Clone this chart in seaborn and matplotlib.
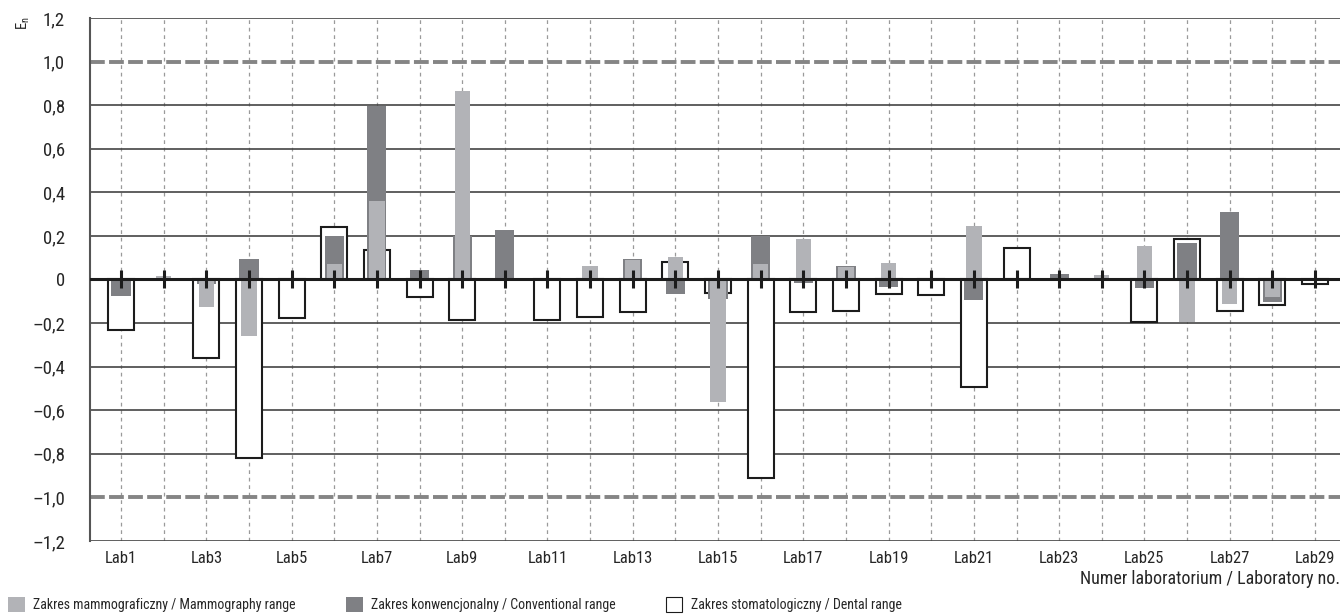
import numpy as np
import matplotlib
matplotlib.use("Agg")
import matplotlib.pyplot as plt
import matplotlib.patches as mpatches
import matplotlib.font_manager as fm
import seaborn as sns

# E_n values, one entry per laboratory (nan = no bar)
labs = [f"Lab{i}" for i in range(1, 30)]
mammo = [np.nan, 0.015, -0.127, -0.26, np.nan, 0.07, 0.362, np.nan, 0.867, np.nan,
         np.nan, 0.062, 0.09, 0.103, -0.562, 0.07, 0.186, 0.058, 0.075, np.nan,
         0.247, np.nan, np.nan, 0.02, 0.154, -0.196, -0.111, -0.08, np.nan]
conv = [-0.076, np.nan, -0.023, 0.094, np.nan, 0.2, 0.796, 0.043, 0.2, 0.228,
        np.nan, np.nan, 0.095, -0.067, -0.088, 0.2, -0.018, 0.062, -0.034, np.nan,
        -0.096, np.nan, 0.025, np.nan, -0.039, 0.168, 0.311, -0.103, np.nan]
dental = [-0.23, np.nan, -0.36, -0.817, -0.176, 0.243, 0.135, -0.08, -0.188, np.nan,
          -0.188, -0.17, -0.15, 0.079, -0.062, -0.913, -0.15, -0.145, -0.068, -0.073,
          -0.493, 0.145, np.nan, np.nan, -0.196, 0.186, -0.145, -0.117, -0.02]
yticks = np.round(np.arange(-1.2, 1.21, 0.2), 1)

light = "#b2b3b7"
dark = "#7f8084"
ink = "#1c1c1c"

sns.set_style("white")

# look for a condensed face, the reference uses a narrow grotesque
narrow = None
for f in fm.fontManager.ttflist:
    n = f.name.lower()
    if "condensed" in n or "narrow" in n or f.stretch in ("condensed", "semi-condensed", "extra-condensed"):
        if narrow is None or "roboto" in n or "liberation" in n:
            narrow = f
if narrow is not None:
    plt.rcParams["font.family"] = [narrow.name, "DejaVu Sans"]
    plt.rcParams["font.stretch"] = narrow.stretch
    k = 1.0
else:
    plt.rcParams["font.family"] = ["Liberation Sans", "DejaVu Sans"]
    k = 0.85

fig = plt.figure(figsize=(13.42, 6.16), dpi=100)
ax = fig.add_axes([0.0671, 0.1218, 0.9314, 0.849])

sns.barplot(x=labs, y=dental, order=labs, width=0.61, color="white", edgecolor=ink,
            linewidth=1.5, saturation=1, errorbar=None, ax=ax, zorder=2)
sns.barplot(x=labs, y=conv, order=labs, width=0.45, color=dark, linewidth=0,
            saturation=1, errorbar=None, ax=ax, zorder=3)
sns.barplot(x=labs, y=mammo, order=labs, width=0.36, color=light, linewidth=0,
            saturation=1, errorbar=None, ax=ax, zorder=3.5)

pos = np.arange(len(labs))
ax.axhline(0, color=ink, lw=2.2, zorder=4)
ax.plot(pos, np.zeros(len(labs)), "|", ms=13, mew=2.2, color=ink, zorder=5)
for lvl in (1.0, -1.0):
    ax.axhline(lvl, color="#858585", lw=2.8, dashes=(3.8, 1.1), zorder=1.5)

ax.set_xlim(-0.727, 28.586)
ax.set_ylim(-1.2, 1.2)
ax.set_xticks(pos)
ax.set_xticklabels([l if i % 2 == 0 else "" for i, l in enumerate(labs)], fontsize=12 * k)
ax.set_yticks(yticks)
ax.set_yticklabels(["0" if v == 0 else f"{v:.1f}".replace(".", ",").replace("-", "\u2013")
                    for v in yticks], fontsize=13.5 * k)
ax.tick_params(axis="x", length=0, pad=7)
ax.tick_params(axis="y", length=10, width=1.2, color="#444444", pad=8)

ax.set_axisbelow(True)
ax.grid(axis="y", color="#444444", lw=1.2)
ax.grid(axis="x", color="#9a9a9a", lw=0.9, ls=(0, (3, 3)))
for v, gl in zip(yticks, ax.get_ygridlines()):
    if abs(v) == 1.0:
        gl.set_visible(False)
for s in ["top", "right", "bottom"]:
    ax.spines[s].set_visible(False)
ax.spines["left"].set_color("#555555")
ax.spines["left"].set_linewidth(1.5)

ax.set_xlabel("Numer laboratorium / Laboratory no.", loc="right", fontsize=13 * k, labelpad=3)
ax.set_ylabel("")
fig.text(0.017, 0.963, r"E$_{\mathregular{n}}$", rotation=90, fontsize=10.5 * k, ha="center", va="center")

handles = [
    mpatches.Patch(facecolor=light, edgecolor="none", label="Zakres mammograficzny / Mammography range"),
    mpatches.Patch(facecolor=dark, edgecolor="none", label="Zakres konwencjonalny / Conventional range"),
    mpatches.Patch(facecolor="white", edgecolor=ink, lw=0.8, label="Zakres stomatologiczny / Dental range"),
]
fig.legend(handles=handles, loc="lower left", bbox_to_anchor=(-0.003, -0.014), ncol=3,
           frameon=False, fontsize=10 * k, handlelength=1.2, handleheight=1.2,
           handletextpad=0.6, columnspacing=3.6)

fig.savefig("out.png", dpi=100)
